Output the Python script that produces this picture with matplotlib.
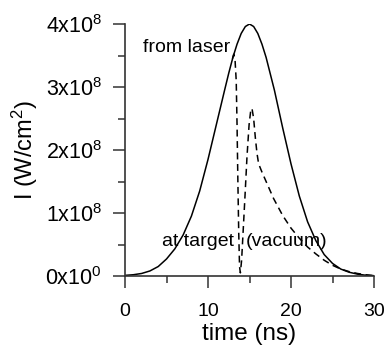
import matplotlib
matplotlib.use("Agg")
import matplotlib.pyplot as plt
from matplotlib.ticker import MultipleLocator, FixedLocator

plt.rcParams['font.family'] = ['Liberation Sans', 'DejaVu Sans']
plt.rcParams['mathtext.fontset'] = 'custom'
plt.rcParams['mathtext.rm'] = 'Liberation Sans'
plt.rcParams['mathtext.it'] = 'Liberation Sans'
plt.rcParams['mathtext.bf'] = 'Liberation Sans'

# Solid curve: intensity from laser (units of 1e8 W/cm^2)
t_laser = [0, 1, 2, 3, 4, 5, 6, 7, 8, 9, 10, 11, 12, 12.5, 13, 13.5, 14, 14.5, 15,
           15.5, 16, 16.5, 17, 18, 19, 20, 21, 22, 23, 24, 25, 26, 27, 28, 29, 30]
i_laser = [0.01, 0.02, 0.04, 0.08, 0.15, 0.27, 0.43, 0.65, 0.95, 1.35, 1.85, 2.4, 2.95,
           3.22, 3.47, 3.68, 3.85, 3.96, 4.0, 3.96, 3.85, 3.68, 3.47, 2.95, 2.35, 1.78,
           1.27, 0.86, 0.56, 0.34, 0.2, 0.11, 0.06, 0.03, 0.012, 0.005]

# Dashed curve: intensity at target (vacuum)
t_target = [12.95, 13.1, 13.25, 13.4, 13.5, 13.6, 13.7, 13.8, 13.9, 14.05, 14.25, 14.45,
            14.7, 14.95, 15.15, 15.3, 15.5, 15.7, 15.9, 16.1, 16.5, 17, 17.9, 19, 20,
            21, 22, 23, 24, 25, 26, 27, 28, 29, 30]
i_target = [3.45, 3.52, 3.45, 3.1, 2.4, 1.5, 0.7, 0.15, 0.05, 0.25, 0.75, 1.25,
            1.9, 2.4, 2.63, 2.66, 2.5, 2.2, 1.95, 1.78, 1.65, 1.5, 1.23, 0.96, 0.76,
            0.6, 0.46, 0.35, 0.25, 0.17, 0.11, 0.07, 0.04, 0.02, 0.005]

x_ticks = [0, 10, 20, 30]
y_ticks = [0, 1, 2, 3, 4]
y_tick_labels = [r'0x10$^{0}$', r'1x10$^{8}$', r'2x10$^{8}$', r'3x10$^{8}$', r'4x10$^{8}$']

fig = plt.figure(figsize=(3.85, 3.45), dpi=100)
ax = fig.add_axes([125/385, 1 - 276/345, (374 - 125)/385, (276 - 24)/345])

ax.plot(t_laser, i_laser, color='black', lw=1.1)
ax.plot(t_target, i_target, color='black', lw=1.1, dashes=(4.5, 3))

ax.set_xlim(0, 30)
ax.set_ylim(0, 4)
ax.spines['top'].set_visible(False)
ax.spines['right'].set_visible(False)
for s in ['left', 'bottom']:
    ax.spines[s].set_linewidth(1.2)
    ax.spines[s].set_color('#333333')

ax.xaxis.set_major_locator(FixedLocator(x_ticks))
ax.xaxis.set_minor_locator(MultipleLocator(5))
ax.yaxis.set_major_locator(FixedLocator(y_ticks))
ax.yaxis.set_minor_locator(MultipleLocator(0.5))
ax.set_yticklabels(y_tick_labels)

ax.tick_params(which='major', direction='out', length=8.5, width=1.1, labelsize=14, color='#333333')
ax.tick_params(which='minor', direction='out', length=5, width=1.1, color='#333333')
ax.tick_params(axis='x', which='major', pad=11)
ax.tick_params(axis='y', which='major', pad=8, labelsize=15.5)

ax.set_xlabel('time (ns)', fontsize=17.5, labelpad=2)
ax.set_ylabel(r'I (W/cm$^{2}$)', fontsize=17, labelpad=4)

ax.text(2.2, 3.62, 'from laser', fontsize=14, va='center', ha='left')
ax.text(4.5, 0.54, 'at target', fontsize=14, va='center', ha='left')
ax.text(14.6, 0.54, '(vacuum)', fontsize=14, va='center', ha='left')

fig.savefig('out.png', dpi=100)
